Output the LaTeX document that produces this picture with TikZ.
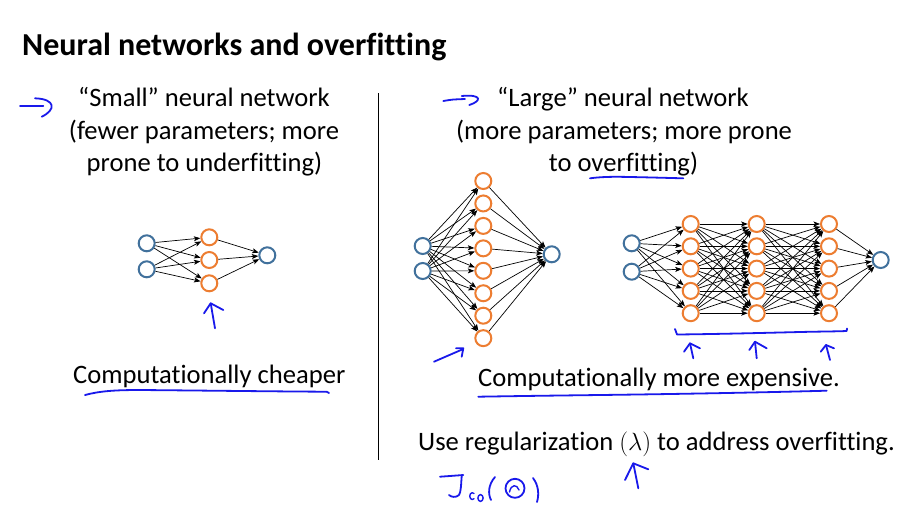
\documentclass[tikz,border=0pt]{standalone}
\usepackage{fontspec}
\setmainfont{Carlito}[Ligatures=NoCommon]
\usetikzlibrary{arrows.meta}
\definecolor{nnorange}{RGB}{237,125,49}
\definecolor{nnblue}{RGB}{65,113,156}
\definecolor{pen}{RGB}{25,25,235}
\tikzset{
  unitin/.style={circle,draw=nnblue,line width=2pt,inner sep=0pt,minimum size=16pt},
  unithid/.style={circle,draw=nnorange,line width=2pt,inner sep=0pt,minimum size=16pt},
  conn/.style={black,line width=0.7pt,-{Stealth[length=6.5pt,width=5pt,inset=1.5pt]}},
  ink/.style={pen,line width=1.8pt,line cap=round,line join=round},
  txt/.style={font=\fontsize{26.6}{32}\selectfont,anchor=base,inner sep=0pt},
}
\begin{document}
\begin{tikzpicture}[x=1pt,y=-1pt]
\useasboundingbox (0,0) rectangle (913,507);
\fill[white] (0,0) rectangle (913,507);

% title
\node[font=\bfseries\fontsize{32}{36}\selectfont,anchor=base west,inner sep=0pt] (title) at (22,55) {Neural networks and overfitting};

% divider
\coordinate (dtop) at (378,93);
\coordinate (dbot) at (378,460);
\draw[line width=0.8pt] (dtop) -- (dbot);

% left texts
\node[txt] (s1) at (204,106.5) {“Small” neural network};
\node[txt] (s2) at (204,139) {(fewer parameters; more};
\node[txt] (s3) at (204.5,171.5) {prone to underfitting)};
\node[txt,anchor=base west] (cheap) at (73,383.5) {Computationally cheaper};

% right texts
\node[txt] (l1) at (623,106.5) {“Large” neural network};
\node[txt] (l2) at (624,139) {(more parameters; more prone};
\node[txt] (l3) at (623.5,171.5) {to overfitting)};
\node[txt,anchor=base west] (exp) at (478,386) {Computationally more expensive.};
\node[txt,anchor=base west] (reg) at (418,450) {Use regularization $(\lambda)$ to address overfitting.};

% small network
\node[unitin] (a1) at (146.7,243.3) {};
\node[unitin] (a2) at (146.7,269.3) {};
\foreach \i/\y in {1/237.3,2/260,3/283.3} \node[unithid] (ah\i) at (209.3,\y) {};
\node[unitin] (ao) at (267.3,255.3) {};
\foreach \i in {1,2} \foreach \j in {1,2,3} \draw[conn] (a\i) -- (ah\j);
\foreach \j in {1,2,3} \draw[conn] (ah\j) -- (ao);

% large network 1
\node[unitin] (b1) at (422.7,246) {};
\node[unitin] (b2) at (422.7,271) {};
\foreach \j in {1,...,8} \node[unithid] (bh\j) at (483.3,{181+(\j-1)*22.45}) {};
\node[unitin] (bo) at (551.7,254.3) {};
\foreach \i in {1,2} \foreach \j in {1,...,8} \draw[conn] (b\i) -- (bh\j);
\foreach \j in {1,...,8} \draw[conn] (bh\j) -- (bo);

% large network 2
\node[unitin] (c1) at (631.7,243.3) {};
\node[unitin] (c2) at (631.7,271.7) {};
\foreach \k/\x in {1/690.7,2/756.7,3/829} \foreach \j in {1,...,5}
  \node[unithid] (c\k h\j) at (\x,{224+(\j-1)*22.3}) {};
\node[unitin] (co) at (880.7,260) {};
\foreach \i in {1,2} \foreach \j in {1,...,5} \draw[conn] (c\i) -- (c1h\j);
\foreach \i in {1,...,5} \foreach \j in {1,...,5} {
  \draw[conn] (c1h\i) -- (c2h\j);
  \draw[conn] (c2h\i) -- (c3h\j);
}
\foreach \j in {1,...,5} \draw[conn] (c3h\j) -- (co);

% handwriting
% left arrow
\draw[ink] (20,105.7) -- (43.3,105.7);
\draw[ink] (35,98.3) .. controls (56,99) and (56,110) .. (41.7,116.7);
% top right arrow
\draw[ink] (443.3,101) .. controls (452,99.5) .. (465,99);
\draw[ink] (461.7,96) .. controls (482,94) and (482,101) .. (469.3,105);
% underline overfitting
\draw[ink] (590,178.3) .. controls (600,177) and (610,176.5) .. (630,177) .. controls (655,177.5) and (670,178) .. (683.3,178.3);
% small up arrow
\draw[ink] (215,328.3) -- (210.7,303.3);
\draw[ink] (204,313.3) -- (210.7,303.3) -- (223.3,310);
% bottom-left arrow of large net 1
\draw[ink] (434,361.7) -- (463.3,349);
\draw[ink] (456,348.3) -- (463.3,348.3) -- (461.7,356.7);
% bracket
\draw[ink] (675,329) -- (677,334.5) .. controls (720,334) and (760,333) .. (800,332) .. controls (820,331.5) and (835,331.5) .. (846.7,331) -- (847,328.5);
% three up arrows
\draw[ink] (693.3,358.3) -- (690,343.3);
\draw[ink] (684,351.7) -- (690,343.3) -- (700,348.3);
\draw[ink] (756.7,358.3) -- (755,341.7);
\draw[ink] (749.3,350) -- (755,341.7) -- (766.7,348.3);
\draw[ink] (830,360) -- (826,345);
\draw[ink] (820.7,351.7) -- (826,345) -- (834,348.3);
% underline cheaper
\draw[ink] (85,395) .. controls (100,391) and (115,390) .. (140,390) .. controls (200,390.5) and (280,391.5) .. (326.7,391.7) -- (329,393);
% underline expensive
\draw[ink] (478.3,396.7) .. controls (520,396) and (560,395.5) .. (600,395) .. controls (680,394) and (760,392.5) .. (826.7,390.7);
% up arrow under lambda
\draw[ink] (638.3,488.3) -- (633.3,463.3);
\draw[ink] (625,480) -- (633.3,463.3) -- (648.3,469.3);
% J_co(Theta)
\draw[ink] (440,476.7) .. controls (450,476) .. (463.3,475);
\draw[ink] (461.7,476) .. controls (461,485) and (461,492) .. (459,495) .. controls (456,498) and (451,497) .. (449,495);
\draw[ink,line width=1.4pt] (474,493.5) arc[start angle=50,end angle=310,x radius=2.6pt,y radius=3.4pt];
\draw[ink,line width=1.4pt] (480.5,498) ellipse[x radius=2.6pt,y radius=3.4pt];
\draw[ink] (495,477) .. controls (488,485) and (488,494) .. (491,500);
\draw[ink] (515,488.3) circle[radius=9.5pt];
\draw[ink,line width=1.4pt] (509.5,492) .. controls (511,484) and (517,484) .. (519,490);
\draw[ink] (533,478) .. controls (539,486) and (539,495) .. (537,502);
\end{tikzpicture}
\end{document}
